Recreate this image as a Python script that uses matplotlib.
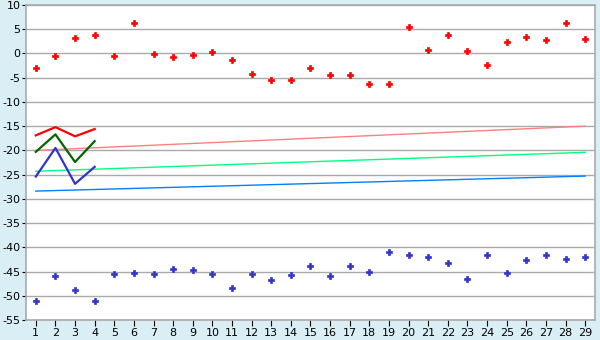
import matplotlib.pyplot as plt

plt.rcParams['axes.unicode_minus'] = False

# categories 1..29
cats = list(range(1, 30))

red_pts = [-2.9, -0.6, 3.1, 3.9, -0.6, 6.2, -0.1, -0.8, -0.4, 0.2,
           -1.4, -4.3, -5.5, -5.5, -2.9, -4.5, -4.5, -6.2, -6.2, 5.4,
           0.8, 3.9, 0.6, -2.4, 2.3, 3.3, 2.7, 6.2, 2.9]
blue_pts = [-51.1, -46.0, -48.9, -51.1, -45.6, -45.4, -45.6, -44.5, -44.7, -45.6,
            -48.3, -45.6, -46.8, -45.8, -43.9, -46.0, -43.9, -45.0, -41.0, -41.6,
            -42.1, -43.3, -46.6, -41.6, -45.2, -42.7, -41.6, -42.5, -42.1]

line_x = [1, 2, 3, 4]
red_line = [-16.9, -15.2, -17.1, -15.6]
green_line = [-20.3, -16.7, -22.4, -18.1]
blue_line = [-25.4, -19.5, -26.9, -23.4]

trend_x = [1, 29]
red_trend = [-20.0, -15.0]
green_trend = [-24.3, -20.4]
blue_trend = [-28.4, -25.3]

bg = '#d9eff5'
fig = plt.figure(figsize=(6, 3.4), dpi=100, facecolor=bg)
ax = fig.add_axes([26 / 600, 20 / 340, 569 / 600, 315 / 340])
ax.set_facecolor('white')

ax.plot(trend_x, red_trend, color='#ff8080', lw=1.0)
ax.plot(trend_x, green_trend, color='#00ff80', lw=1.0)
ax.plot(trend_x, blue_trend, color='#0080ff', lw=1.0)

ax.plot(line_x, red_line, color='#ff0000', lw=1.6)
ax.plot(line_x, green_line, color='#006600', lw=1.6)
ax.plot(line_x, blue_line, color='#3333cc', lw=1.6)

ax.plot(cats, red_pts, ls='none', marker='P', ms=5, color='#ff0000', mec='#ff0000', mew=0.5)
ax.plot(cats, blue_pts, ls='none', marker='P', ms=5, color='#3333cc', mec='#3333cc', mew=0.5)

ax.set_xlim(0.5, 29.5)
ax.set_ylim(-55, 10)
ax.set_xticks(cats)
ax.set_yticks(range(-55, 11, 5))
ax.yaxis.grid(True, color='#aaaaaa', lw=1.0)
ax.set_axisbelow(True)
for s in ax.spines.values():
    s.set_color('#aaaaaa')
    s.set_linewidth(1.2)
ax.tick_params(axis='y', labelsize=8, length=3, width=0.8, color='black', pad=1)
ax.tick_params(axis='x', labelsize=8, length=4, width=0.8, color='black', pad=2)

fig.savefig('out.png', dpi=100, facecolor=bg)
